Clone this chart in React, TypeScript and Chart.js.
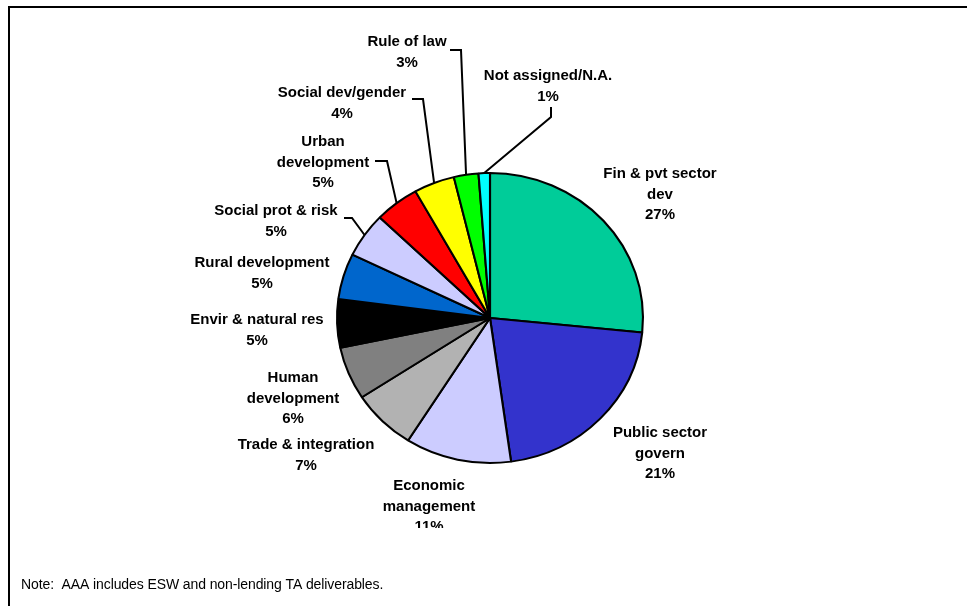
import React, { useEffect, useRef } from "react";
import { Chart, registerables } from "chart.js";

Chart.register(...registerables);

// ---- data ----
const categories = [
  "Fin & pvt sector dev",
  "Public sector govern",
  "Economic management",
  "Trade & integration",
  "Human development",
  "Envir & natural res",
  "Rural development",
  "Social prot & risk",
  "Urban development",
  "Social dev/gender",
  "Rule of law",
  "Not assigned/N.A.",
];
const shares = [26.6, 21.2, 11.2, 6.8, 5.9, 5.4, 5.1, 5.0, 4.7, 4.3, 2.6, 1.2];
const sliceColors = [
  "#00CC99",
  "#3333CC",
  "#CCCCFF",
  "#B2B2B2",
  "#808080",
  "#000000",
  "#0066CC",
  "#CCCCFF",
  "#FF0000",
  "#FFFF00",
  "#00FF00",
  "#00FFFF",
];
const labelLines = [
  ["Fin & pvt sector", "dev"],
  ["Public sector", "govern"],
  ["Economic", "management"],
  ["Trade & integration"],
  ["Human", "development"],
  ["Envir & natural res"],
  ["Rural development"],
  ["Social prot & risk"],
  ["Urban", "development"],
  ["Social dev/gender"],
  ["Rule of law"],
  ["Not assigned/N.A."],
];
const noteText = "Note:  AAA includes ESW and non-lending TA deliverables.";

// ---- layout (label placement, not data) ----
type LabelPos = { x: number; y: number; leader?: number[][] };
const labelLayout: LabelPos[] = [
  { x: 660, y: 174 },
  { x: 660, y: 433 },
  { x: 429, y: 486 },
  { x: 306, y: 445 },
  { x: 293, y: 378 },
  { x: 257, y: 320 },
  { x: 262, y: 263 },
  { x: 276, y: 211, leader: [[344, 218], [352, 218]] },
  { x: 323, y: 142, leader: [[375, 161], [387, 161]] },
  { x: 342, y: 93, leader: [[412, 99], [423, 99]] },
  { x: 407, y: 42, leader: [[450, 50], [461, 50]] },
  { x: 548, y: 76, leader: [[551, 107], [551, 117]] },
];
const X_STRETCH = 1.055;
const LINE_H = 20.5;
const LABEL_FONT = "bold 15px 'Liberation Sans', Arial, sans-serif";

const ellipsePlugin = {
  id: "ellipse",
  beforeDatasetsDraw(chart: any) {
    const arc = chart.getDatasetMeta(0).data[0];
    const ctx = chart.ctx;
    ctx.save();
    ctx.translate(arc.x, arc.y);
    ctx.scale(X_STRETCH, 1);
    ctx.translate(-arc.x, -arc.y);
  },
  afterDatasetsDraw(chart: any) {
    chart.ctx.restore();
  },
};

const labelsPlugin = {
  id: "outerLabels",
  afterDraw(chart: any) {
    const ctx: CanvasRenderingContext2D = chart.ctx;
    const meta = chart.getDatasetMeta(0);
    const total = shares.reduce((a, b) => a + b, 0);

    // frame (top and left edges)
    ctx.save();
    ctx.fillStyle = "#000";
    ctx.fillRect(8, 6, 959, 2);
    ctx.fillRect(8, 6, 2, 600);
    ctx.restore();

    ctx.save();
    ctx.beginPath();
    ctx.rect(0, 0, 967, 528);
    ctx.clip();
    ctx.font = LABEL_FONT;
    ctx.fillStyle = "#000";
    ctx.textAlign = "center";
    ctx.textBaseline = "middle";
    meta.data.forEach((arc: any, i: number) => {
      const pos = labelLayout[i];
      const lines = [...labelLines[i], Math.round((shares[i] / total) * 100) + "%"];
      lines.forEach((t, k) => ctx.fillText(t, pos.x, pos.y + k * LINE_H));
      if (pos.leader) {
        const mid = (arc.startAngle + arc.endAngle) / 2;
        const r = arc.outerRadius;
        const ex = arc.x + Math.cos(mid) * r * X_STRETCH;
        const ey = arc.y + Math.sin(mid) * r;
        ctx.beginPath();
        ctx.strokeStyle = "#000";
        ctx.lineWidth = 2;
        ctx.lineJoin = "miter";
        ctx.moveTo(pos.leader[0][0], pos.leader[0][1]);
        for (let k = 1; k < pos.leader.length; k++) ctx.lineTo(pos.leader[k][0], pos.leader[k][1]);
        ctx.lineTo(ex, ey);
        ctx.stroke();
      }
    });
    ctx.restore();

    ctx.save();
    ctx.font = "14px 'Liberation Sans', Arial, sans-serif";
    (ctx as any).letterSpacing = "-0.1px";
    ctx.fillStyle = "#000";
    ctx.textAlign = "left";
    ctx.textBaseline = "middle";
    ctx.fillText(noteText, 21, 585);
    ctx.restore();
  },
};

export default function App() {
  const ref = useRef<HTMLCanvasElement | null>(null);
  useEffect(() => {
    if (!ref.current) return;
    const chart = new Chart(ref.current, {
      type: "pie",
      data: {
        labels: categories,
        datasets: [
          {
            data: shares,
            backgroundColor: sliceColors,
            borderColor: "#000000",
            borderWidth: 2,
            radius: 145,
            hoverOffset: 0,
          } as any,
        ],
      },
      options: {
        responsive: false,
        animation: false,
        events: [],
        layout: { padding: { left: 340, right: 327, top: 168, bottom: 138 } },
        plugins: {
          legend: { display: false },
          tooltip: { enabled: false },
          title: { display: false },
        },
      },
      plugins: [ellipsePlugin, labelsPlugin],
    });
    return () => chart.destroy();
  }, []);
  return (
    <div style={{ position: "fixed", left: 0, top: 0, width: 967, height: 606, background: "#fff" }}>
      <canvas ref={ref} width={967} height={606} style={{ display: "block", width: 967, height: 606 }} />
    </div>
  );
}
